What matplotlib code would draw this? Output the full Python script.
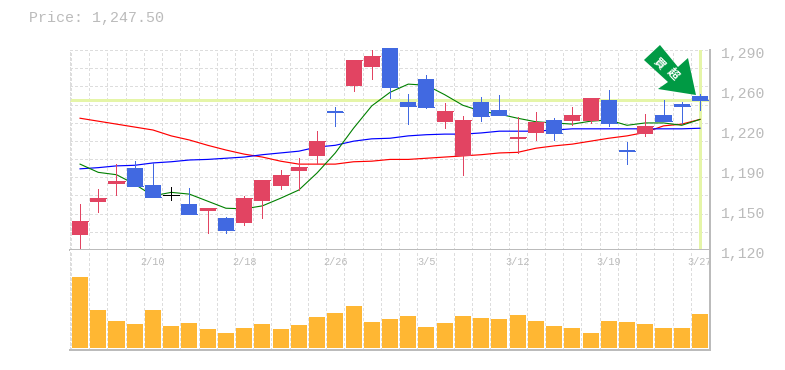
import matplotlib
matplotlib.use("Agg")
import matplotlib.pyplot as plt
import numpy as np
from matplotlib.patches import Polygon
from matplotlib.transforms import Affine2D

opens = [1132.5, 1161, 1176, 1189.5, 1175.5, 1166.5, 1159, 1153, 1147, 1143, 1161.5, 1174.5,
         1187, 1200, 1238, 1259.5, 1275.5, 1292, 1246, 1265.5, 1229, 1200, 1246, 1239,
         1214.5, 1219.5, 1230.5, 1229.5, 1229.5, 1247.5, 1205, 1218.5, 1235, 1244, 1251]
highs = [1159, 1172, 1193, 1195.5, 1194, 1173.5, 1172.5, 1155.5, 1148, 1166, 1179.5, 1188,
         1198, 1221, 1241.5, 1281.5, 1290, 1292, 1252.5, 1269, 1245, 1234, 1250, 1252,
         1233, 1237.5, 1232, 1241.5, 1249, 1256, 1212, 1235.5, 1247.5, 1246, 1252.5]
lows = [1121.5, 1152.5, 1167, 1174.5, 1165, 1162.5, 1150.5, 1134.5, 1134.5, 1141, 1147, 1172,
        1171, 1193, 1225.5, 1255, 1265.5, 1249, 1227, 1240.5, 1223.5, 1184, 1229.5, 1235,
        1202.5, 1213.5, 1213.5, 1226, 1228, 1225.5, 1193, 1217, 1229.5, 1228, 1239]
closes = [1144.5, 1164, 1179, 1174.5, 1165, 1166.5, 1150.5, 1155.5, 1137, 1164, 1179.5, 1184,
          1190.5, 1212.5, 1237.5, 1281.5, 1285, 1258.5, 1242.5, 1241.5, 1238, 1230.5, 1234, 1235,
          1216, 1229, 1219.5, 1235, 1249, 1228, 1204, 1225.5, 1229.5, 1242.5, 1247.5]
ma_green = [1193, 1186, 1184, 1176, 1166, 1169, 1167.5, 1161.5, 1155.5, 1155, 1157.5, 1164,
            1171, 1185.5, 1202.5, 1223.5, 1242.5, 1254, 1261, 1260, 1252, 1243, 1238, 1235.5,
            1232, 1229, 1228, 1227, 1229.5, 1230.5, 1226, 1228, 1228, 1226, 1231]
ma_blue = [1189, 1190, 1191.5, 1192, 1194, 1195, 1196.5, 1197, 1198, 1199, 1201, 1202.5,
           1204, 1207.5, 1209, 1212.5, 1214.5, 1215, 1217, 1218, 1218.5, 1218.5, 1219.5, 1221,
           1221, 1221, 1222, 1223, 1223, 1223, 1223, 1223, 1223, 1223, 1223.5]
ma_red = [1232, 1229.5, 1227, 1224.5, 1222, 1217, 1213.5, 1209, 1205, 1201.5, 1199, 1195.5,
          1193, 1193, 1193, 1195, 1195.5, 1197, 1197, 1198, 1199, 1200, 1201, 1202.5,
          1203, 1206.5, 1208.5, 1210, 1212.5, 1215, 1217, 1220, 1225.5, 1227, 1231]
volume = [71, 38, 27, 24, 38, 22, 25, 19, 15, 20, 24, 19, 23, 31, 35, 42, 26, 29,
          32, 21, 25, 32, 30, 29, 33, 27, 22, 20, 15, 27, 26, 24, 20, 20, 34]
date_pos = [4, 9, 14, 19, 24, 29, 34]
date_labels = ["2/10", "2/18", "2/26", "3/5", "3/12", "3/19", "3/27"]
price_ticks = [1290, 1256, 1222, 1188, 1154, 1120]
price_labels = ["1,290", "1,260", "1,220", "1,190", "1,150", "1,120"]
last_price = 1247.5
arrow_text = "買超"

RED = "#e24462"
BLUE = "#4169e1"
GRAY = "#bbbbbb"
GRID = "#dddddd"
PALE = "#e5f5a8"
W, H = 785, 370

plt.rcParams["font.family"] = ["Liberation Mono", "DejaVu Sans Mono"]
plt.rcParams["lines.antialiased"] = False
plt.rcParams["patch.antialiased"] = False

fig = plt.figure(figsize=(W / 100, H / 100), dpi=100)
ax = fig.add_axes([70 / W, 1 - 250 / H, 640 / W, 200 / H])
ax_vol = fig.add_axes([70 / W, 1 - 350 / H, 640 / W, 100 / H])

n = len(closes)
xs = np.arange(n)
grid_x = np.arange(n + 1) - 0.5

for a in (ax, ax_vol):
    a.set_xlim(-0.55, n - 0.45)
    a.set_xticks(grid_x)
    a.tick_params(length=0, labelbottom=False, labelleft=False)
    a.grid(True, axis="x", color=GRID, lw=0.65, ls=(0, (3, 3)), zorder=0)
    a.set_axisbelow(True)
    a.spines["top"].set_visible(False)
    a.spines["left"].set_color(GRID)
    a.spines["left"].set_linestyle((0, (3, 3)))
    a.spines["left"].set_linewidth(0.65)
    a.spines["right"].set_color(GRAY)
    a.spines["bottom"].set_color(GRAY)
    a.spines["right"].set_linewidth(1.1)
    a.spines["bottom"].set_linewidth(1.1)

ax.set_ylim(1120, 1290)
ax.set_yticks(np.linspace(1120, 1290, 12))
ax.grid(True, axis="y", color=GRID, lw=0.65, ls=(0, (3, 3)), zorder=0)

ax.axhline(last_price, color=PALE, lw=2.16, zorder=1, antialiased=True)
ax.axvline(n - 1, color=PALE, lw=2.16, zorder=1, antialiased=True)

ax.plot(xs, ma_red, color="#ff0000", lw=0.85, zorder=2, antialiased=True)
ax.plot(xs, ma_blue, color="#0000ff", lw=0.85, zorder=2, antialiased=True)
ax.plot(xs, ma_green, color="#008000", lw=0.8, zorder=2, antialiased=True)

colors = [RED if c > o else BLUE if c < o else "black" for o, c in zip(opens, closes)]
ax.vlines(xs, lows, highs, colors=colors, lw=0.65, zorder=3, antialiased=False)
bottoms = np.minimum(opens, closes)
heights = np.abs(np.array(closes) - np.array(opens))
bars = ax.bar(xs, heights, bottom=bottoms, width=0.88, color=colors, zorder=4)
for b in bars:
    b.set_clip_on(False)
ax.hlines(closes, xs - 0.44, xs + 0.44, colors=colors, lw=0.65, zorder=4, antialiased=False)

ax_vol.set_ylim(-2, 98)
ax_vol.bar(xs, volume, width=0.88, color="#ffb733", zorder=2)

for pos, label in zip(date_pos, date_labels):
    ax_vol.text(pos, 0.88, label, transform=ax_vol.get_xaxis_transform(), color=GRAY,
                fontsize=7.4, ha="center", va="center", zorder=5, clip_on=False)

for val, label in zip(price_ticks, price_labels):
    ax.annotate(label, xy=(1, val), xycoords=("axes fraction", "data"), xytext=(7.7, -3.2),
                textcoords="offset points", color=GRAY, fontsize=10.6, ha="left", va="center",
                annotation_clip=False)

fig.text(29 / W, 1 - 18 / H, f"Price: {last_price:,.2f}", color=GRAY, fontsize=10.8, ha="left", va="center")

# arrow badge, shape given relative to its tip, which sits on the last candle
tip = ax.transData.transform((n - 1, last_price))
shape = [(-36, -50), (-52, -35), (-28, -13), (-38, -6), (0, 0), (-8, -37), (-18, -28)]
badge = Polygon(shape, closed=True, facecolor="#009a44", edgecolor="none", zorder=6,
                transform=Affine2D().scale(1, -1).translate(tip[0] - 4, tip[1] + 5), clip_on=False,
                antialiased=True)
ax.add_patch(badge)
for ch, off in zip(arrow_text, [(-40, 37), (-27, 26)]):
    ax.annotate(ch, xy=(n - 1, last_price), xytext=off, textcoords="offset pixels",
                color="white", fontsize=8.2, family=["Noto Sans CJK JP", "DejaVu Sans"], fontweight="bold",
                rotation=-45, rotation_mode="anchor", ha="center", va="center", zorder=7,
                annotation_clip=False)

fig.savefig("out.png", dpi=100)
